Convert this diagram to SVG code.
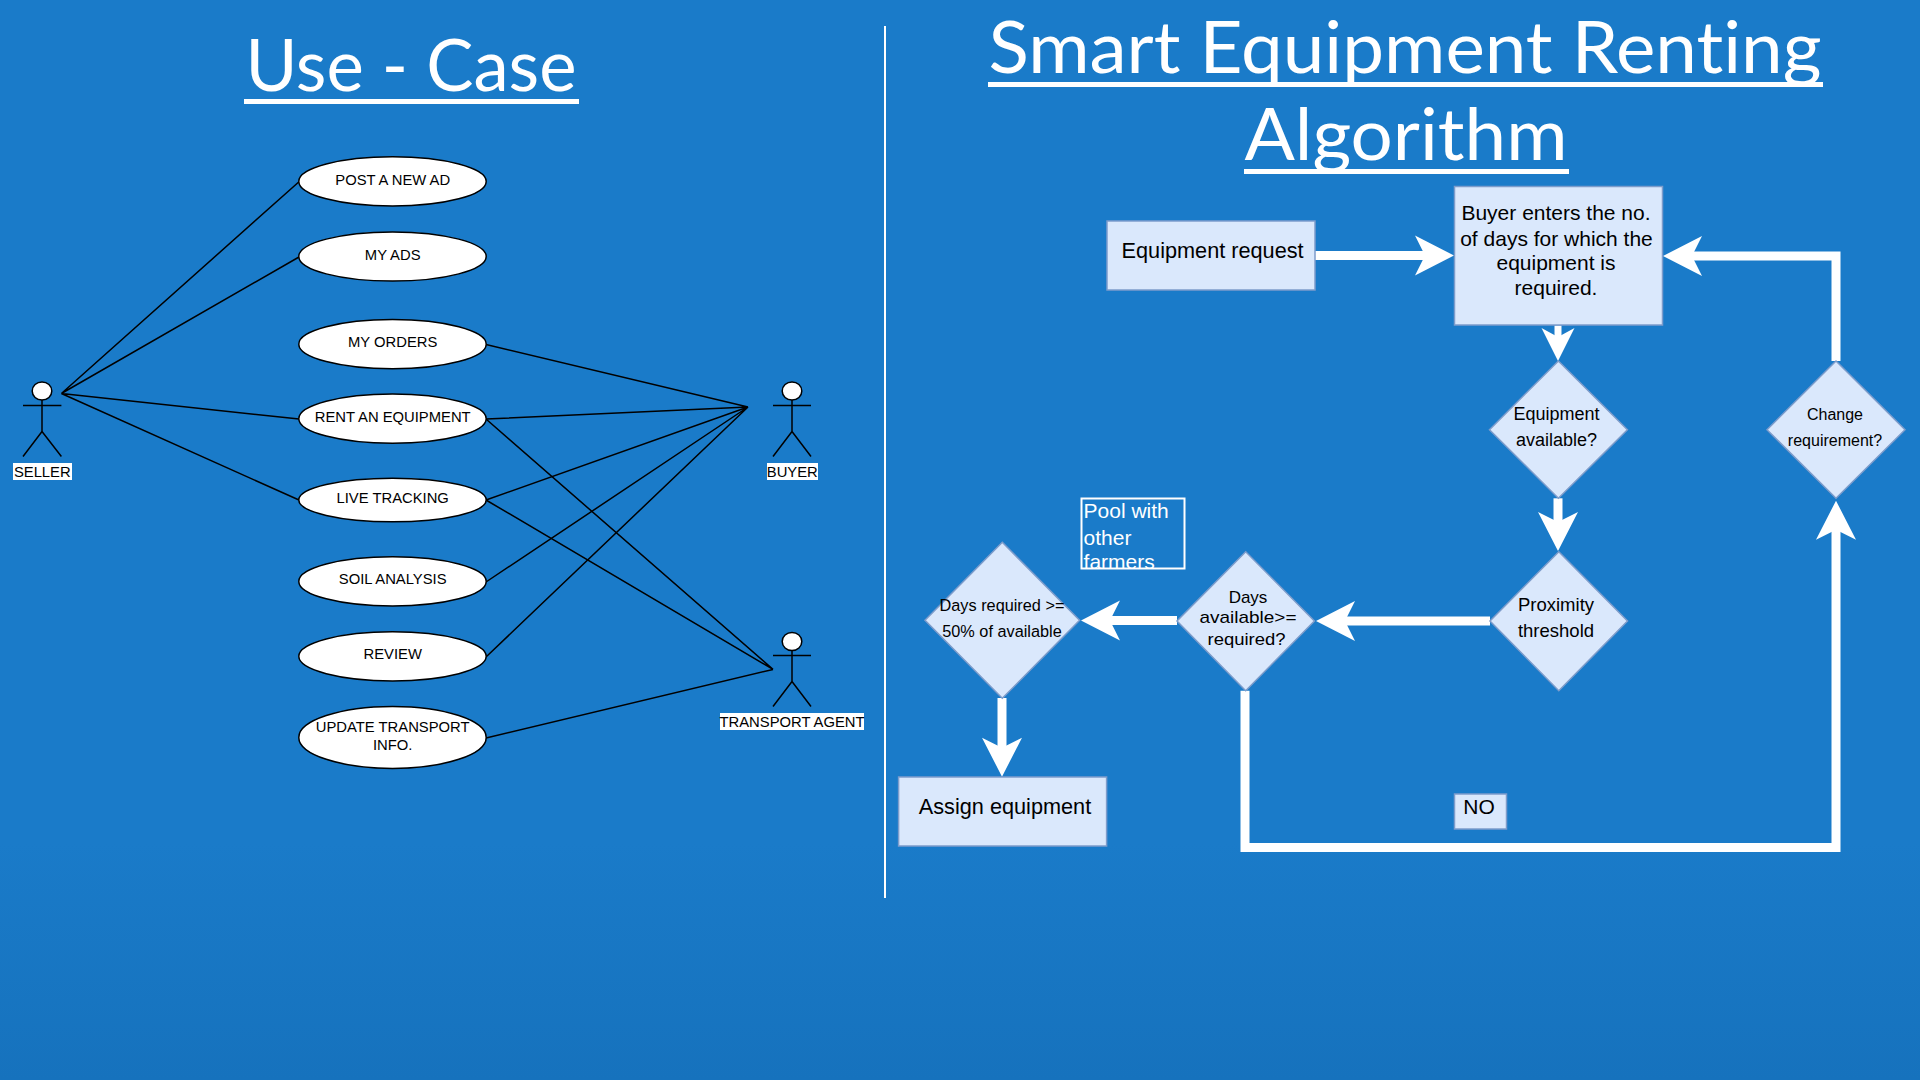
<svg xmlns="http://www.w3.org/2000/svg" width="1920" height="1080" viewBox="0 0 1920 1080">
<style>
.title{font-family:Lato,"Open Sans",sans-serif;font-weight:400;font-variant-ligatures:none;font-size:71px;fill:#fff;text-anchor:middle}
.uc{fill:#fff;stroke:#000;stroke-width:1.5}
.ut{font-family:"Liberation Sans",Arial,sans-serif;font-size:14.8px;fill:#000;text-anchor:middle}
.ul{stroke:#000;stroke-width:1.5;fill:none}
.act{stroke:#000;stroke-width:1.5;fill:none}
.head{fill:#fff;stroke:#000;stroke-width:1.5}
.box{fill:#dae8fc;stroke:#7d9ccb;stroke-width:1.5}
.ft{font-family:"Liberation Sans",Arial,sans-serif;fill:#000;text-anchor:middle}
.arrow{fill:none;stroke:#fff;stroke-width:9;stroke-linejoin:miter}
</style>
<defs>
<linearGradient id="bg" x1="0" y1="0" x2="0" y2="1">
<stop offset="0" stop-color="#1a7bc9"/><stop offset="0.78" stop-color="#1a7bc9"/><stop offset="1" stop-color="#1672bd"/>
</linearGradient>
<marker id="big" markerUnits="userSpaceOnUse" markerWidth="39" markerHeight="40" viewBox="0 0 39 40" refX="19" refY="20" orient="auto" overflow="visible"><polygon points="0,0 39,20 0,40 10,20" fill="#fff"/></marker>
<marker id="small" markerUnits="userSpaceOnUse" markerWidth="33" markerHeight="33" viewBox="0 0 33 33" refX="16" refY="16.5" orient="auto" overflow="visible"><polygon points="0,0 33,16.5 0,33 9,16.5" fill="#fff"/></marker>
</defs>
<rect width="1920" height="1080" fill="url(#bg)"/>

<g id="titles">
<text class="title" x="411" y="91" textLength="331" lengthAdjust="spacingAndGlyphs">Use - Case</text>
<rect x="244" y="99" width="335" height="5" fill="#fff"/>
<text class="title" x="1405" y="73" textLength="833" lengthAdjust="spacingAndGlyphs">Smart Equipment Renting</text>
<rect x="988" y="82" width="835" height="5" fill="#fff"/>
<text class="title" x="1406" y="160" textLength="323" lengthAdjust="spacingAndGlyphs">Algorithm</text>
<rect x="1244" y="169" width="325" height="5" fill="#fff"/>
</g>
<line id="divider" x1="885" y1="26" x2="885" y2="898" stroke="#fff" stroke-width="2"/>

<g id="usecase-connectors">
<path class="ul" d="M61.4 393.5L299 181.7M61.4 393.5L299 257M61.4 393.5L299 419M61.4 393.5L299 500"/>
<path class="ul" d="M748 407L486 344.5M748 407L486 419M748 407L486 500M748 407L486 582M748 407L486 657"/>
<path class="ul" d="M773 669.4L486 419M773 669.4L486 500M773 669.4L486 738"/>
</g>

<g id="uc-post"><ellipse class="uc" cx="392.5" cy="181.4" rx="93.7" ry="24.6"/><text class="ut" x="392.7" y="184.5">POST A NEW AD</text></g>
<g id="uc-ads"><ellipse class="uc" cx="392.5" cy="256.5" rx="93.7" ry="24.6"/><text class="ut" x="392.7" y="259.5">MY ADS</text></g>
<g id="uc-orders"><ellipse class="uc" cx="392.5" cy="344.2" rx="93.7" ry="24.6"/><text class="ut" x="392.7" y="347">MY ORDERS</text></g>
<g id="uc-rent"><ellipse class="uc" cx="392.5" cy="418.7" rx="93.7" ry="24.6"/><text class="ut" x="392.7" y="421.5">RENT AN EQUIPMENT</text></g>
<g id="uc-live"><ellipse class="uc" cx="392.5" cy="500" rx="93.7" ry="21.8"/><text class="ut" x="392.7" y="502.8">LIVE TRACKING</text></g>
<g id="uc-soil"><ellipse class="uc" cx="392.5" cy="581.4" rx="93.7" ry="24.6"/><text class="ut" x="392.7" y="584">SOIL ANALYSIS</text></g>
<g id="uc-review"><ellipse class="uc" cx="392.5" cy="656.3" rx="93.7" ry="24.6"/><text class="ut" x="392.7" y="659">REVIEW</text></g>
<g id="uc-update"><ellipse class="uc" cx="392.5" cy="737.4" rx="93.7" ry="31"/><text class="ut" x="392.7" y="731.5">UPDATE TRANSPORT</text><text class="ut" x="392.7" y="750">INFO.</text></g>

<g id="actor-seller"><ellipse class="head" cx="42" cy="391" rx="9.8" ry="9.1"/><path class="act" d="M42 400V431.5M23 405.5H61.4M42 431.5L23 456.5M42 431.5L61.4 456.5"/><rect x="13" y="463" width="59" height="17" fill="#fff"/><text class="ut" x="42.3" y="476.5">SELLER</text></g>
<g id="actor-buyer"><ellipse class="head" cx="792" cy="391" rx="9.8" ry="9.1"/><path class="act" d="M792 400V431.5M773 405.5H811M792 431.5L773 456.5M792 431.5L811 456.5"/><rect x="767" y="463" width="51" height="17" fill="#fff"/><text class="ut" x="792.3" y="476.5">BUYER</text></g>
<g id="actor-transport"><ellipse class="head" cx="792" cy="641.5" rx="9.8" ry="9.1"/><path class="act" d="M792 650.5V681.5M773 655.5H811M792 681.5L773 706.5M792 681.5L811 706.5"/><rect x="720" y="713" width="144" height="17" fill="#fff"/><text class="ut" x="792" y="726.5">TRANSPORT AGENT</text></g>

<g id="flow-connectors">
<path class="arrow" d="M1315 255.6H1434" marker-end="url(#big)"/>
<path class="arrow" d="M1836 361V256H1683" marker-end="url(#big)"/>
<path class="arrow" style="stroke-width:7" d="M1558 325.5V344" marker-end="url(#small)"/>
<path class="arrow" d="M1558 498.3V531" marker-end="url(#big)"/>
<path class="arrow" d="M1490 621H1336" marker-end="url(#big)"/>
<path class="arrow" d="M1177 620.5H1101" marker-end="url(#big)"/>
<path class="arrow" d="M1002 698V756.7" marker-end="url(#big)"/>
<path class="arrow" d="M1245 690.7V847.5H1836V520.7" marker-end="url(#big)"/>
</g>

<g id="n-request"><rect class="box" x="1107" y="221" width="208" height="69"/><text class="ft" font-size="21.7" x="1212.6" y="258">Equipment request</text></g>
<g id="n-buyer"><rect class="box" x="1454.5" y="186.5" width="208" height="138.5"/><g class="ft" font-size="21"><text x="1556" y="219.5">Buyer enters the no.</text><text x="1556.5" y="245.5">of days for which the</text><text x="1556" y="270">equipment is</text><text x="1556" y="294.5">required.</text></g></g>
<g id="n-equip"><polygon class="box" points="1558.4,361 1627.4,429.7 1558.4,498.3 1489.5,429.7"/><g class="ft" font-size="18"><text x="1556.6" y="419.5">Equipment</text><text x="1556.6" y="446">available?</text></g></g>
<g id="n-change"><polygon class="box" points="1836,361 1905,429.7 1836,498.3 1767,429.7"/><g class="ft" font-size="16"><text x="1835" y="419.5">Change</text><text x="1835" y="446">requirement?</text></g></g>
<g id="n-prox"><polygon class="box" points="1558.8,551.7 1627.5,621 1558.8,690.7 1490,621"/><g class="ft" font-size="18.5"><text x="1556" y="610.5">Proximity</text><text x="1556" y="636.5">threshold</text></g></g>
<g id="n-avail"><polygon class="box" points="1245.7,551.7 1314.4,621 1245.7,690.7 1177,621"/><g class="ft" font-size="17"><text x="1248" y="602.7">Days</text><text x="1248" y="623" textLength="97" lengthAdjust="spacingAndGlyphs">available&gt;=</text><text x="1246.5" y="644.5" textLength="78" lengthAdjust="spacingAndGlyphs">required?</text></g></g>
<g id="n-required"><polygon class="box" points="1002.3,542.3 1079.6,620.3 1002.3,698.3 925,620.3"/><g class="ft" font-size="16.3"><text x="1002" y="610.5">Days required &gt;=</text><text x="1002" y="636.5">50% of available</text></g></g>
<g id="n-assign"><rect class="box" x="898.6" y="777" width="208" height="69"/><text class="ft" font-size="21.7" x="1005" y="814">Assign equipment</text></g>
<g id="n-no"><rect class="box" x="1454.5" y="794" width="52" height="35"/><text class="ft" font-size="21" x="1479" y="814">NO</text></g>
<g id="n-pool"><rect x="1081.5" y="498.5" width="103" height="70" fill="none" stroke="#fff" stroke-width="2"/><g font-family="Liberation Sans,Arial,sans-serif" font-size="21" fill="#fff"><text x="1083.6" y="518">Pool with</text><text x="1083.6" y="545">other</text><text x="1083.6" y="569">farmers</text></g></g>
</svg>
